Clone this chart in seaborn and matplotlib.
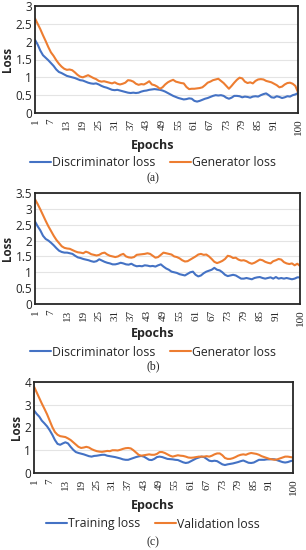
import numpy as np
import pandas as pd
import matplotlib
matplotlib.use("Agg")
import matplotlib.pyplot as plt
import seaborn as sns

epochs = list(range(1, 101))
tick_epochs = [1, 7, 13, 19, 25, 31, 37, 43, 49, 55, 61, 67, 73, 79, 85, 91, 100]

a_disc = [2.05, 1.92, 1.75, 1.62, 1.55, 1.48, 1.40, 1.32, 1.22, 1.15,
          1.12, 1.08, 1.04, 1.02, 1.00, 0.98, 0.95, 0.92, 0.91, 0.88,
          0.85, 0.83, 0.82, 0.83, 0.80, 0.76, 0.73, 0.71, 0.68, 0.65,
          0.64, 0.65, 0.63, 0.61, 0.59, 0.57, 0.56, 0.57, 0.56, 0.57,
          0.60, 0.62, 0.63, 0.65, 0.66, 0.67, 0.66, 0.65, 0.63, 0.60,
          0.56, 0.52, 0.48, 0.45, 0.42, 0.40, 0.38, 0.39, 0.41, 0.40,
          0.34, 0.32, 0.34, 0.37, 0.40, 0.42, 0.45, 0.48, 0.50, 0.49,
          0.50, 0.48, 0.43, 0.40, 0.43, 0.48, 0.48, 0.47, 0.44, 0.46,
          0.45, 0.43, 0.46, 0.47, 0.46, 0.50, 0.53, 0.55, 0.50, 0.44,
          0.43, 0.47, 0.45, 0.42, 0.44, 0.47, 0.46, 0.50, 0.52, 0.56]
a_gen = [2.65, 2.50, 2.35, 2.18, 2.02, 1.85, 1.70, 1.60, 1.48, 1.38,
         1.30, 1.24, 1.21, 1.22, 1.20, 1.14, 1.07, 1.02, 1.00, 1.03,
         1.06, 1.02, 0.98, 0.95, 0.90, 0.88, 0.89, 0.87, 0.85, 0.83,
         0.86, 0.82, 0.80, 0.82, 0.85, 0.92, 0.91, 0.88, 0.82, 0.79,
         0.81, 0.80, 0.84, 0.89, 0.80, 0.78, 0.74, 0.68, 0.72, 0.80,
         0.86, 0.90, 0.93, 0.88, 0.86, 0.84, 0.83, 0.73, 0.67, 0.68,
         0.68, 0.69, 0.70, 0.72, 0.78, 0.85, 0.88, 0.92, 0.94, 0.96,
         0.90, 0.84, 0.76, 0.68, 0.76, 0.85, 0.93, 0.99, 0.97, 0.88,
         0.84, 0.86, 0.83, 0.90, 0.94, 0.95, 0.94, 0.90, 0.88, 0.86,
         0.82, 0.78, 0.72, 0.74, 0.80, 0.84, 0.85, 0.82, 0.76, 0.58]

b_disc = [2.60, 2.45, 2.32, 2.15, 2.05, 2.00, 1.93, 1.85, 1.76, 1.68,
          1.64, 1.62, 1.62, 1.60, 1.58, 1.52, 1.47, 1.45, 1.42, 1.40,
          1.38, 1.35, 1.33, 1.35, 1.41, 1.37, 1.33, 1.30, 1.28, 1.25,
          1.25, 1.27, 1.30, 1.28, 1.25, 1.24, 1.27, 1.22, 1.19, 1.20,
          1.19, 1.22, 1.21, 1.19, 1.20, 1.18, 1.22, 1.25, 1.18, 1.12,
          1.08, 1.02, 1.00, 0.98, 0.94, 0.92, 0.90, 0.95, 1.00, 1.02,
          0.92, 0.87, 0.90, 0.97, 1.02, 1.05, 1.08, 1.14, 1.08, 1.06,
          1.00, 0.92, 0.88, 0.90, 0.92, 0.90, 0.85, 0.80, 0.80, 0.82,
          0.80, 0.78, 0.82, 0.84, 0.85, 0.82, 0.80, 0.82, 0.84, 0.80,
          0.85, 0.80, 0.82, 0.80, 0.82, 0.80, 0.78, 0.80, 0.84, 0.84]
b_gen = [3.30, 3.15, 2.98, 2.80, 2.62, 2.45, 2.30, 2.15, 2.02, 1.92,
         1.82, 1.77, 1.75, 1.74, 1.70, 1.66, 1.63, 1.62, 1.60, 1.65,
         1.62, 1.57, 1.55, 1.53, 1.55, 1.60, 1.62, 1.56, 1.52, 1.50,
         1.48, 1.50, 1.55, 1.58, 1.50, 1.47, 1.46, 1.48, 1.55, 1.56,
         1.57, 1.58, 1.60, 1.58, 1.52, 1.46, 1.48, 1.55, 1.62, 1.60,
         1.58, 1.56, 1.50, 1.48, 1.44, 1.38, 1.34, 1.35, 1.40, 1.45,
         1.50, 1.56, 1.58, 1.55, 1.56, 1.50, 1.42, 1.33, 1.29, 1.32,
         1.36, 1.42, 1.52, 1.50, 1.45, 1.46, 1.40, 1.37, 1.38, 1.35,
         1.30, 1.27, 1.30, 1.35, 1.40, 1.38, 1.33, 1.30, 1.28, 1.35,
         1.38, 1.42, 1.40, 1.32, 1.28, 1.26, 1.28, 1.22, 1.27, 1.20]

c_train = [2.75, 2.60, 2.48, 2.30, 2.18, 2.05, 1.88, 1.68, 1.45, 1.28,
           1.24, 1.30, 1.35, 1.30, 1.15, 1.02, 0.92, 0.88, 0.85, 0.82,
           0.78, 0.74, 0.72, 0.75, 0.76, 0.78, 0.80, 0.80, 0.76, 0.74,
           0.72, 0.70, 0.67, 0.64, 0.60, 0.58, 0.58, 0.62, 0.66, 0.70,
           0.73, 0.75, 0.72, 0.65, 0.58, 0.57, 0.62, 0.70, 0.72, 0.70,
           0.66, 0.62, 0.61, 0.60, 0.58, 0.57, 0.52, 0.47, 0.44, 0.46,
           0.52, 0.58, 0.64, 0.68, 0.72, 0.70, 0.62, 0.54, 0.52, 0.54,
           0.52, 0.45, 0.38, 0.35, 0.38, 0.40, 0.42, 0.45, 0.48, 0.52,
           0.55, 0.50, 0.45, 0.44, 0.46, 0.52, 0.58, 0.58, 0.58, 0.60,
           0.60, 0.61, 0.60, 0.56, 0.52, 0.48, 0.46, 0.48, 0.52, 0.55]
c_val = [3.80, 3.55, 3.30, 3.05, 2.82, 2.58, 2.30, 2.02, 1.80, 1.68,
         1.62, 1.60, 1.58, 1.52, 1.45, 1.35, 1.25, 1.15, 1.10, 1.12,
         1.15, 1.12, 1.05, 1.00, 0.96, 0.94, 0.93, 0.95, 0.97, 0.96,
         1.00, 1.00, 0.99, 1.02, 1.06, 1.09, 1.10, 1.08, 1.00, 0.90,
         0.80, 0.76, 0.78, 0.80, 0.82, 0.80, 0.80, 0.84, 0.92, 0.92,
         0.88, 0.82, 0.76, 0.72, 0.75, 0.78, 0.76, 0.75, 0.72, 0.68,
         0.67, 0.68, 0.70, 0.72, 0.72, 0.72, 0.74, 0.72, 0.76, 0.82,
         0.86, 0.86, 0.78, 0.66, 0.62, 0.62, 0.65, 0.70, 0.76, 0.80,
         0.82, 0.80, 0.85, 0.88, 0.86, 0.84, 0.80, 0.74, 0.70, 0.66,
         0.62, 0.60, 0.58, 0.60, 0.64, 0.68, 0.72, 0.72, 0.70, 0.68]

panels = [
    dict(s1=a_disc, s2=a_gen, n1="Discriminator loss", n2="Generator loss",
         ymax=3.0, ystep=0.5, ylabels=["0", "0.5", "1", "1.5", "2", "2.5", "3"],
         rect=(35, 6, 298, 113), epochs_y=145, leg_y=163, cap_y=178, cap="(a)"),
    dict(s1=b_disc, s2=b_gen, n1="Discriminator loss", n2="Generator loss",
         ymax=3.5, ystep=0.5, ylabels=["0", "0.5", "1", "1.5", "2", "2.5", "3", "3.5"],
         rect=(35, 193, 300, 304), epochs_y=334, leg_y=352, cap_y=366, cap="(b)"),
    dict(s1=c_train, s2=c_val, n1="Training loss", n2="Validation loss",
         ymax=4.0, ystep=1.0, ylabels=["0", "1", "2", "3", "4"],
         rect=(34, 382, 293, 473), epochs_y=505, leg_y=524, cap_y=542, cap="(c)"),
]

sns.set_theme(style="white")
plt.rcParams['font.family'] = ['Open Sans', 'DejaVu Sans']

W, H = 306, 550
fig = plt.figure(figsize=(W / 100, H / 100), dpi=100)
fig.patch.set_facecolor("white")

BLUE = "#4472C4"
ORANGE = "#ED7D31"

for p in panels:
    x0, y0, x1, y1 = p["rect"]
    ax = fig.add_axes([x0 / W, 1 - y1 / H, (x1 - x0) / W, (y1 - y0) / H])
    df = pd.DataFrame({"epoch_idx": list(range(len(epochs))) * 2,
                       "loss": p["s1"] + p["s2"],
                       "series": [p["n1"]] * len(epochs) + [p["n2"]] * len(epochs)})
    sns.lineplot(data=df, x="epoch_idx", y="loss", hue="series",
                 palette={p["n1"]: BLUE, p["n2"]: ORANGE}, linewidth=1.5, ax=ax,
                 legend=False)
    ax.set_xlim(0, len(epochs) - 1)
    ax.set_ylim(0, p["ymax"])
    yt = [i * p["ystep"] for i in range(len(p["ylabels"]))]
    ax.set_yticks(yt)
    ax.set_yticklabels(p["ylabels"], fontsize=8.5, color="#262626")
    ax.yaxis.grid(True, color="#E4E4E4", linewidth=0.8)
    ax.xaxis.grid(False)
    ax.set_axisbelow(True)
    ax.set_xticks([epochs.index(e) for e in tick_epochs])
    ax.set_xticklabels([str(e) for e in tick_epochs], rotation=90,
                       fontsize=8, family="Liberation Serif", color="#262626")
    ax.tick_params(axis="x", length=0, pad=4)
    ax.tick_params(axis="y", length=0, pad=2)
    for sp in ax.spines.values():
        sp.set_visible(True)
        sp.set_color("#262626")
        sp.set_linewidth(1.3)
    ax.set_xlabel("")
    ax.set_ylabel("Loss", fontsize=8.3, fontweight="bold", labelpad=1)
    fig.text(0.5, 1 - p["epochs_y"] / H, "Epochs", ha="center", va="center",
             fontsize=9, fontweight="bold")
    h1, = ax.plot([], [], color=BLUE, linewidth=1.5, label=p["n1"])
    h2, = ax.plot([], [], color=ORANGE, linewidth=1.5, label=p["n2"])
    fig.legend(handles=[h1, h2], loc="center", ncol=2, frameon=False,
               bbox_to_anchor=(0.5, 1 - p["leg_y"] / H), fontsize=8.8,
               handlelength=1.7, handletextpad=0.1, columnspacing=1.2,
               borderpad=0.1)
    fig.text(0.5, 1 - p["cap_y"] / H, p["cap"], ha="center", va="center",
             fontsize=8.5, family="Liberation Serif")

fig.savefig("out.png", dpi=100, facecolor="white")
